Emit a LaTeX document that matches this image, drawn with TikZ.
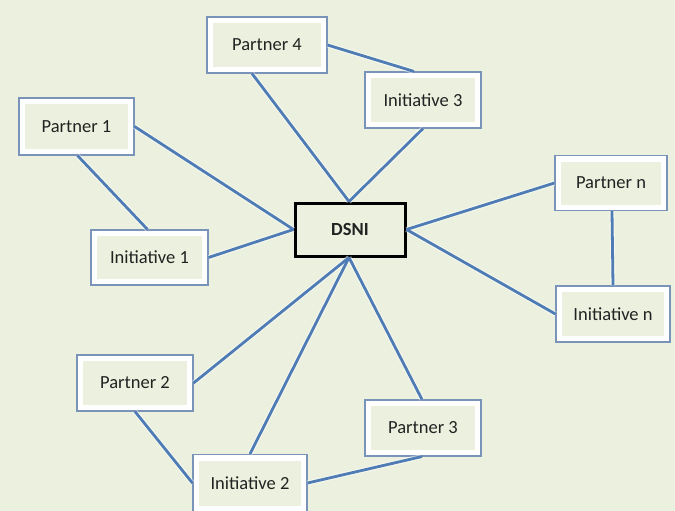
\documentclass[tikz,border=0pt]{standalone}
\usepackage{fontspec}
\setmainfont{Carlito}
\definecolor{bgc}{HTML}{EBF1DE}
\definecolor{bordc}{HTML}{7A93B8}
\definecolor{linec}{HTML}{4F7CB4}
\definecolor{txtc}{HTML}{222222}
\tikzset{
  box/.style={draw=bordc, line width=1.1pt, fill=white, inner sep=0pt,
    font=\fontsize{18.5}{20}\selectfont, text=txtc,
    path picture={\fill[bgc] ([shift={(6pt,6pt)}]path picture bounding box.south west) rectangle ([shift={(-6pt,-6pt)}]path picture bounding box.north east);}},
  hub/.style={draw=black, line width=3pt, fill=bgc, inner sep=0pt,
    font=\fontsize{18.5}{20}\selectfont\bfseries, text=txtc},
  link/.style={draw=linec, line width=2.8pt},
  glow/.style={draw=white, line width=5pt, opacity=0.5}
}
\begin{document}
\begin{tikzpicture}[x=1pt,y=-1pt]
\fill[bgc] (0,0) rectangle (675,511);
\useasboundingbox (0,0) rectangle (675,511);
% nodes
\node[box, minimum width=120pt, minimum height=56pt] (p4) at (267,45) {Partner 4};
\node[box, minimum width=116pt, minimum height=56pt] (i3) at (423,100) {Initiative 3};
\node[box, minimum width=115pt, minimum height=57pt] (p1) at (76.5,126.5) {Partner 1};
\node[hub, minimum width=110pt, minimum height=53pt] (dsni) at (350,229.5) {DSNI};
\node[box, minimum width=112pt, minimum height=55pt] (pn) at (611,183) {Partner n};
\node[box, minimum width=117pt, minimum height=55pt] (i1) at (149.5,257.5) {Initiative 1};
\node[box, minimum width=114pt, minimum height=56pt] (in) at (613,314) {Initiative n};
\node[box, minimum width=116pt, minimum height=56pt] (p2) at (135,383) {Partner 2};
\node[box, minimum width=116pt, minimum height=56pt] (p3) at (423,428) {Partner 3};
\node[box, minimum width=114pt, minimum height=57pt] (i2) at (250,483) {Initiative 2};
% connectors
\foreach \s in {glow,link}{
  \draw[\s] ([xshift=-15pt]p4.south) -- ([xshift=-1pt]dsni.north);
  \draw[\s] (p4.east) -- ([xshift=-9pt]i3.north);
  \draw[\s] (i3.south) -- ([xshift=-1pt]dsni.north);
  \draw[\s] (p1.east) -- (dsni.west);
  \draw[\s] ([xshift=1pt]p1.south) -- ([xshift=-2pt]i1.north);
  \draw[\s] (i1.east) -- (dsni.west);
  \draw[\s] (dsni.east) -- (pn.west);
  \draw[\s] (dsni.east) -- (in.west);
  \draw[\s] ([xshift=1pt]pn.south) -- (in.north);
  \draw[\s] ([xshift=-1pt]dsni.south) -- (p2.east);
  \draw[\s] ([xshift=-1pt]dsni.south) -- (i2.north);
  \draw[\s] ([xshift=-1pt]dsni.south) -- ([xshift=-1pt]p3.north);
  \draw[\s] (p2.south) -- (i2.west);
  \draw[\s] (i2.east) -- ([xshift=-1pt]p3.south);
}
\end{tikzpicture}
\end{document}
